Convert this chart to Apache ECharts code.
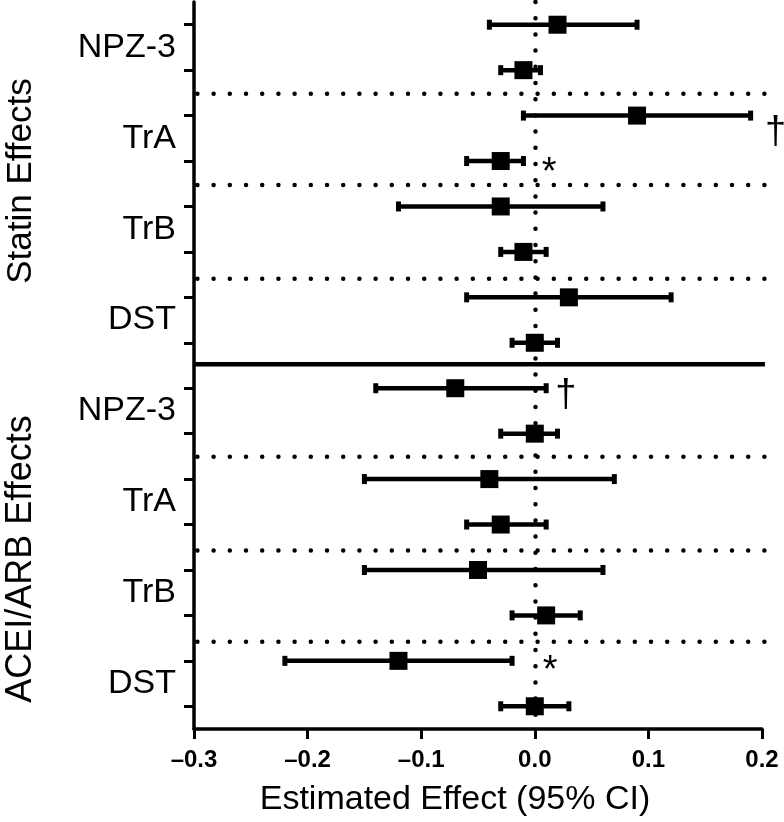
<!DOCTYPE html>
<html><head><meta charset="utf-8">
<script src="https://cdn.jsdelivr.net/npm/echarts@6/dist/echarts.min.js"></script>
<style>html,body{margin:0;padding:0;background:#fff}#c{width:784px;height:822px}</style>
</head><body><div id="c"></div>
<script>
// ---- data ----
const groupNames = ['Statin Effects', 'ACEI/ARB Effects'];
const measures = ['NPZ-3', 'TrA', 'TrB', 'DST'];
// 16 rows, top to bottom (two rows per measure, four measures per group)
const estimates = [0.02, -0.01, 0.09, -0.03, -0.03, -0.01, 0.03, 0.00, -0.07, 0.00, -0.04, -0.03, -0.05, 0.01, -0.12, 0.00];
const lowerCI   = [-0.04, -0.03, -0.01, -0.06, -0.12, -0.03, -0.06, -0.02, -0.14, -0.03, -0.15, -0.06, -0.15, -0.02, -0.22, -0.03];
const upperCI   = [0.09, 0.005, 0.19, -0.01, 0.06, 0.01, 0.12, 0.02, 0.01, 0.02, 0.07, 0.01, 0.06, 0.04, -0.02, 0.03];
const xTickMin = -0.3, xTickMax = 0.2, xTickStep = 0.1;
const dottedDividers = [2.52, 4.53, 6.59, 10.51, 12.57, 14.58];
const groupDividers = [8.47];
const dividerStart = -0.297, dividerEnd = 0.2039, solidEnd = 0.2026;
const annotText = ['\u2020', '*', '\u2020', '*'];
const annotX    = [0.212, 0.0126, 0.0274, 0.0135];
const annotRow  = [3.378, 4.28, 9.158, 15.227];

// ---- derived ----
const rowIdx = estimates.map((_, i) => i + 1);
const labelPos = [];
for (let g = 0; g < groupNames.length; g++) for (let m = 0; m < measures.length; m++) labelPos.push(1.5 + 2 * (g * measures.length + m));

const FONT = '"Liberation Sans", Arial, Helvetica, sans-serif';
const dotted = { type: [0, 16.2], width: 4.5, cap: 'round', color: '#000' };

const dividerData = [
  ...dottedDividers.map(v => [dividerStart, dividerEnd, v, 0]),
  ...groupDividers.map(v => [xTickMin, solidEnd, v, 1])
];

const chart = echarts.init(document.getElementById('c'), null, { renderer: 'canvas' });
chart.setOption({
  animation: false,
  backgroundColor: '#fff',
  grid: { left: 194, right: 22, top: 2, bottom: 93, containLabel: false, outerBoundsMode: 'none' },
  xAxis: {
    type: 'value', min: xTickMin, max: xTickMax, interval: xTickStep,
    axisLine: { show: true, onZero: false, lineStyle: { color: '#000', width: 3.5 } },
    axisTick: { show: true, length: 10, lineStyle: { color: '#000', width: 3 } },
    axisLabel: {
      color: '#000', fontSize: 24, fontWeight: 'bold', fontFamily: FONT, margin: 19,
      formatter: v => { const s = (Math.abs(v) < 1e-9 ? 0 : v).toFixed(1); return s.replace('-', '\u2013'); }
    },
    splitLine: { show: false }
  },
  yAxis: {
    type: 'value', min: 0.5, max: 16.5, inverse: true,
    axisLine: { show: true, onZero: false, lineStyle: { color: '#000', width: 3.5 } },
    axisTick: { show: true, length: 10, customValues: rowIdx, lineStyle: { color: '#000', width: 3 } },
    axisLabel: {
      show: true, customValues: labelPos, color: '#000', fontSize: 34, fontFamily: FONT, margin: 18,
      formatter: v => measures[Math.round((v - 1.5) / 2) % measures.length]
    },
    splitLine: { show: false }
  },
  graphic: [
    { type: 'text', x: 21, y: 181, rotation: Math.PI / 2, z: 10,
      style: { text: groupNames[0], fontSize: 35, fontFamily: FONT, fill: '#000', textAlign: 'center', textVerticalAlign: 'middle' } },
    { type: 'text', x: 21, y: 559, rotation: Math.PI / 2, z: 10,
      style: { text: groupNames[1], fontSize: 36, fontFamily: FONT, fill: '#000', textAlign: 'center', textVerticalAlign: 'middle' } },
    { type: 'text', x: 455, y: 800, z: 10,
      style: { text: 'Estimated Effect (95% CI)', fontSize: 34, fontFamily: FONT, fill: '#000', textAlign: 'center', textVerticalAlign: 'middle' } }
  ],
  series: [
    {
      type: 'scatter', data: [], z: 1, silent: true,
      markLine: {
        silent: true, symbol: ['none', 'none'], label: { show: false }, animation: false,
        data: [ { xAxis: 0, lineStyle: dotted } ]
      }
    },
    {
      type: 'custom', z: 1, silent: true, clip: false,
      data: dividerData,
      renderItem: (params, api) => {
        const y = api.value(2);
        const a = api.coord([api.value(0), y]);
        const b = api.coord([api.value(1), y]);
        const solid = api.value(3) === 1;
        return { type: 'line', shape: { x1: a[0], y1: a[1], x2: b[0], y2: b[1] },
          style: solid ? { stroke: '#000', lineWidth: 4.5 }
                       : { stroke: '#000', lineWidth: 4.5, lineDash: [0, 16.2], lineCap: 'round' } };
      }
    },
    {
      type: 'custom', z: 2, silent: true,
      data: rowIdx.map((r, i) => [lowerCI[i], upperCI[i], estimates[i], r]),
      encode: { x: [0, 1], y: 3 },
      renderItem: (params, api) => {
        const row = api.value(3);
        const lo = api.coord([api.value(0), row]);
        const hi = api.coord([api.value(1), row]);
        return { type: 'group', children: [
          { type: 'line', shape: { x1: lo[0], y1: lo[1], x2: hi[0], y2: hi[1] }, style: { stroke: '#000', lineWidth: 4.5 } },
          { type: 'rect', shape: { x: lo[0] - 2.5, y: lo[1] - 5, width: 5, height: 10 }, style: { fill: '#000' } },
          { type: 'rect', shape: { x: hi[0] - 2.5, y: hi[1] - 5, width: 5, height: 10 }, style: { fill: '#000' } }
        ] };
      }
    },
    {
      type: 'scatter', z: 3, silent: true, symbol: 'rect', symbolSize: 18,
      itemStyle: { color: '#000', opacity: 1 },
      data: rowIdx.map((r, i) => [estimates[i], r])
    },
    {
      type: 'custom', z: 4, silent: true, clip: false,
      data: annotText.map((t, i) => [annotX[i], annotRow[i]]),
      renderItem: (params, api) => {
        const p = api.coord([api.value(0), api.value(1)]);
        return { type: 'text', x: p[0], y: p[1],
          style: { text: annotText[params.dataIndex], fontSize: 38, fontFamily: FONT, fill: '#000', textAlign: 'center', textVerticalAlign: 'middle' } };
      }
    }
  ]
});
</script>
</body></html>
